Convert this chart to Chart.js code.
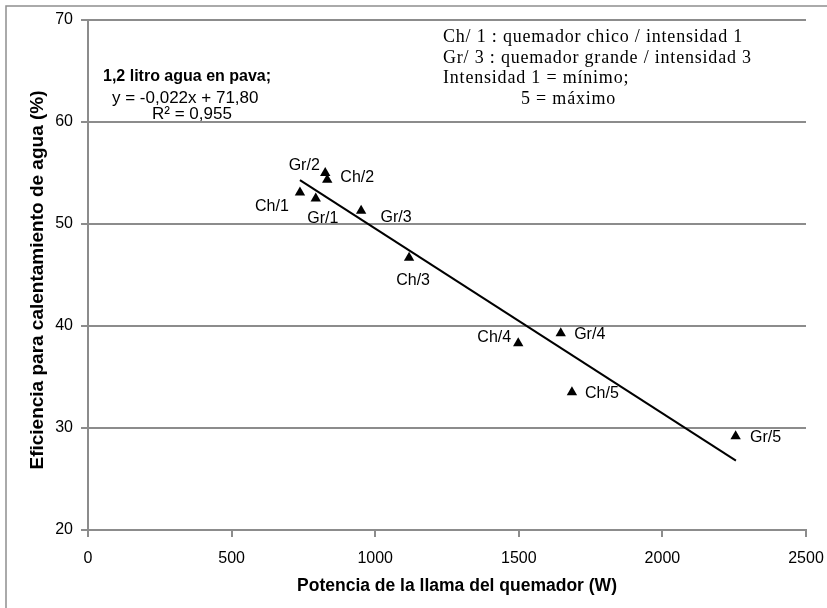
<!DOCTYPE html>
<html>
<head>
<meta charset="utf-8">
<script src="https://cdn.jsdelivr.net/npm/chart.js@4/dist/chart.umd.min.js"></script>
<style>
	body { margin: 0; background: #fff; }
	#chartBox { width: 827px; height: 608px; }
</style>
</head>
<body>
<div id="chartBox"><canvas id="myChart" width="827" height="608"></canvas></div>
<script>
// datos
var pointNames = ['Ch/1', 'Gr/1', 'Gr/2', 'Ch/2', 'Gr/3', 'Ch/3', 'Ch/4', 'Gr/4', 'Ch/5', 'Gr/5'];
var potencia = [738, 793, 826, 833, 951, 1118, 1498, 1646, 1685, 2255];
var eficiencia = [53.1, 52.5, 55.0, 54.35, 51.3, 46.7, 38.3, 39.3, 33.5, 29.2];
var trendX = [738, 2256];
var trendY = [54.3, 26.8];
var xTicks = [0, 500, 1000, 1500, 2000, 2500];
var yTicks = [20, 30, 40, 50, 60, 70];
var xTitle = 'Potencia de la llama del quemador (W)';
var yTitle = 'Eficiencia para calentamiento de agua (%)';
var eqLines = ['1,2 litro agua en pava;', 'y = -0,022x + 71,80', 'R² = 0,955'];
var noteLines = ['Ch/ 1 : quemador chico / intensidad 1', 'Gr/ 3 : quemador grande / intensidad 3', 'Intensidad 1 = mínimo;', '5 = máximo'];

var gridColor = '#8c8c8c';
var sansFont = '"Liberation Sans", Arial, sans-serif';
// donde va cada etiqueta respecto del triangulo (dx, dy)
var labelOffset = [[-28, 14], [7, 20], [-21, -7], [30, -2], [35, 7], [4, 23], [-24, -6], [29, 1], [30, 1], [30, 1]];

function makeScatterData(){
	var pts = [];
	for(var i=0; i<potencia.length; i++){
		pts.push({x: potencia[i], y: eficiencia[i]});
	}
	var line = [];
	for(var j=0; j<trendX.length; j++){
		line.push({x: trendX[j], y: trendY[j]});
	}
	return {
		datasets: [
			{
				label: 'puntos',
				data: pts,
				pointStyle: 'triangle',
				pointRadius: 6,
				backgroundColor: '#000',
				borderColor: '#000',
				borderWidth: 0,
				showLine: false
			},
			{
				label: 'tendencia',
				data: line,
				showLine: true,
				borderColor: '#000',
				borderWidth: 2,
				pointRadius: 0,
				fill: false
			}
		]
	};
}

var textPlugin = {
	id: 'textPlugin',
	beforeDraw: function(chart){
		var ctx = chart.ctx;
		ctx.save();
		ctx.strokeStyle = '#8f8f8f';
		ctx.lineWidth = 1.5;
		ctx.strokeRect(6, 6, 900, 900);
		ctx.restore();
	},
	afterDatasetsDraw: function(chart){
		var ctx = chart.ctx;
		var xs = chart.scales.x;
		var ys = chart.scales.y;
		ctx.save();
		ctx.fillStyle = '#000';
		ctx.font = '16px ' + sansFont;
		ctx.textAlign = 'center';
		ctx.textBaseline = 'middle';
		for(var i=0; i<pointNames.length; i++){
			var px = xs.getPixelForValue(potencia[i]);
			var py = ys.getPixelForValue(eficiencia[i]);
			ctx.fillText(pointNames[i], px + labelOffset[i][0], py + labelOffset[i][1]);
		}
		// titulos de ejes
		ctx.font = 'bold 17.5px ' + sansFont;
		ctx.fillText(xTitle, 457, 586);
		ctx.save();
		ctx.translate(38, 280);
		ctx.rotate(-Math.PI / 2);
		ctx.font = 'bold 19px ' + sansFont;
		ctx.fillText(yTitle, 0, 0);
		ctx.restore();
		// ecuacion
		ctx.textAlign = 'left';
		ctx.font = 'bold 16px ' + sansFont;
		ctx.fillText(eqLines[0], 103, 77);
		ctx.font = '17px ' + sansFont;
		ctx.fillText(eqLines[1], 112, 98);
		ctx.fillText(eqLines[2], 152, 114);
		// notas
		ctx.font = '18px "Liberation Serif", "Times New Roman", serif';
		ctx.letterSpacing = '0.8px';
		ctx.fillText(noteLines[0], 443, 37);
		ctx.fillText(noteLines[1], 443, 58);
		ctx.fillText(noteLines[2], 443, 78);
		ctx.fillText(noteLines[3], 521, 99);
		ctx.restore();
	}
};

function makeChart(){
	var ctx = document.getElementById('myChart').getContext('2d');
	var myChart = new Chart(ctx, {
		type: 'scatter',
		data: makeScatterData(),
		options: {
			responsive: false,
			animation: false,
			layout: { padding: { left: 0, right: 21, top: 20, bottom: 0 } },
			plugins: {
				legend: { display: false },
				tooltip: { enabled: false }
			},
			scales: {
				x: {
					type: 'linear',
					min: 0,
					max: 2500,
					afterFit: function(scale){
						scale.height = 78;
						scale.paddingLeft = 0;
						scale.paddingRight = 0;
					},
					afterBuildTicks: function(scale){
						scale.ticks = xTicks.map(function(v){ return {value: v}; });
					},
					grid: { drawOnChartArea: false, drawTicks: true, tickLength: 7, color: gridColor, lineWidth: 2 },
					border: { color: gridColor, width: 2 },
					ticks: {
						color: '#000',
						padding: 12,
						font: { size: 16, family: sansFont },
						callback: function(value){ return String(value); }
					},
					title: { display: false }
				},
				y: {
					type: 'linear',
					min: 20,
					max: 70,
					afterFit: function(scale){
						scale.width = 88;
						scale.paddingTop = 0;
						scale.paddingBottom = 0;
					},
					afterBuildTicks: function(scale){
						scale.ticks = yTicks.map(function(v){ return {value: v}; });
					},
					grid: { drawTicks: true, tickLength: 7, color: gridColor, lineWidth: 2 },
					border: { color: gridColor, width: 2 },
					ticks: {
						color: '#000',
						padding: 8,
						font: { size: 16, family: sansFont },
						callback: function(value){ return String(value); }
					},
					title: { display: false }
				}
			}
		},
		plugins: [textPlugin]
	});
}
makeChart();
</script>
</body>
</html>
